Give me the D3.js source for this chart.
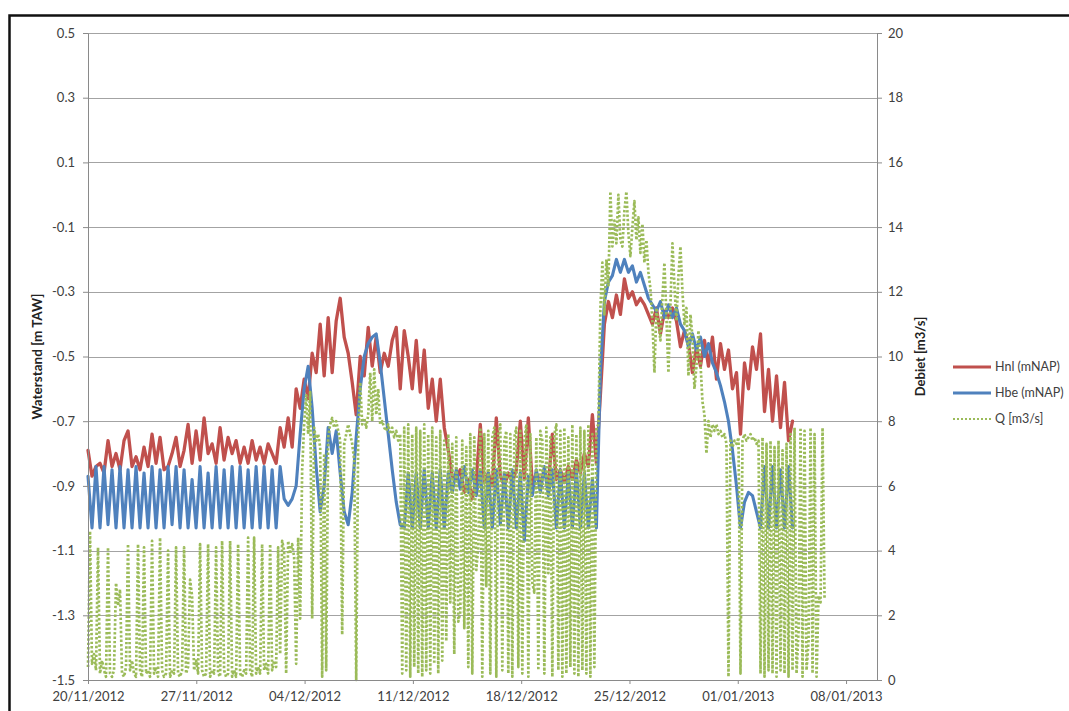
<!DOCTYPE html>
<html>
<head>
<meta charset="utf-8">
<script src="https://cdn.jsdelivr.net/npm/d3@7"></script>
<style>
  body { margin: 0; background: #fff; }
  svg { display: block; }
  text { font-family: Lato, "Liberation Sans", Arial, sans-serif; }
</style>
</head>
<body>
<svg id="chart" width="1069" height="711"></svg>
<script>
// ---- Data -------------------------------------------------------------
// Series start at 20/11/2012 00:00 (UTC) and are regularly sampled.
const seriesStart = "2012-11-20";
const levelStepHours = 6.21;   // water levels: every half tide
const flowStepHours = 3.105;   // discharge: every quarter tide

// Hnl (mNAP) – water level, Dutch side [m]
const hnl = [
  -0.79,-0.87,-0.84,-0.83,-0.86,-0.76,-0.84,-0.80,-0.85,-0.76,
  -0.73,-0.84,-0.81,-0.85,-0.78,-0.84,-0.74,-0.83,-0.75,-0.85,
  -0.84,-0.80,-0.75,-0.84,-0.79,-0.71,-0.83,-0.73,-0.82,-0.69,
  -0.80,-0.77,-0.83,-0.72,-0.82,-0.75,-0.80,-0.76,-0.83,-0.78,
  -0.83,-0.76,-0.82,-0.78,-0.83,-0.77,-0.80,-0.83,-0.72,
  -0.78,-0.69,-0.78,-0.60,-0.66,-0.57,-0.63,-0.49,-0.55,-0.40,
  -0.56,-0.38,-0.55,-0.39,-0.32,-0.44,-0.49,-0.58,-0.68,-0.50,
  -0.56,-0.41,-0.53,-0.44,-0.55,-0.49,-0.53,-0.45,-0.41,-0.60,
  -0.42,-0.50,-0.60,-0.45,-0.61,-0.48,-0.66,-0.57,-0.70,-0.57,
  -0.72,-0.79,-0.87,
  -0.88,-0.85,-0.92,-0.88,-0.94,-0.88,-0.71,-0.89,-0.86,-0.90,
  -0.69,-0.87,-0.90,-0.86,-0.89,-0.85,-0.70,-0.88,-0.69,-0.90,
  -0.86,-0.89,-0.85,-0.90,-0.74,-0.88,-0.85,-0.89,-0.84,-0.88,
  -0.82,-0.86,-0.80,-0.84,-0.68,-0.83,
  -0.62,-0.40,-0.33,-0.38,-0.31,-0.37,-0.26,-0.32,-0.30,-0.34,
  -0.32,-0.34,-0.37,-0.40,-0.35,-0.43,-0.36,-0.38,-0.35,-0.39,
  -0.47,-0.42,-0.46,-0.55,-0.47,-0.53,-0.45,-0.53,-0.44,-0.57,
  -0.46,-0.54,-0.48,-0.60,-0.55,-0.74,-0.52,-0.60,-0.47,-0.54,
  -0.43,-0.67,-0.54,-0.70,-0.56,-0.72,-0.58,-0.76,-0.70
];

// Hbe (mNAP) – water level, Belgian side [m]
const hbe = [
  -0.87,-1.03,-0.84,-1.03,-0.84,-1.02,-0.85,-1.03,-0.84,-1.03,
  -0.85,-1.03,-0.84,-1.03,-0.86,-1.03,-0.84,-1.03,-0.85,-1.03,
  -0.84,-1.02,-0.84,-1.03,-0.85,-1.03,-0.88,-1.03,-0.84,-1.03,
  -0.86,-1.03,-0.84,-1.03,-0.85,-1.03,-0.84,-1.03,-0.84,-1.03,
  -0.85,-1.03,-0.84,-1.03,-0.84,-1.03,-0.85,-1.03,-0.84,
  -0.94,-0.96,-0.94,-0.90,-0.74,-0.60,-0.53,-0.66,-0.84,-0.98,
  -0.90,-0.72,-0.80,-0.73,-0.86,-0.98,-1.02,-0.92,-0.75,-0.60,
  -0.50,-0.46,-0.44,-0.43,-0.52,-0.63,-0.74,-0.85,-0.95,-1.02,
  -1.03,
  -0.86,-1.03,-0.86,-1.03,-0.85,-1.03,-0.86,-1.03,-0.85,-1.03,
  -0.86,-0.92,-0.85,-0.91,-0.84,-0.92,-0.85,-0.93,-0.85,-1.03,
  -0.86,-1.03,-0.85,-1.02,-0.86,-1.03,-0.85,-1.03,-0.86,-1.07,
  -0.87,-0.93,-0.85,-0.92,-0.84,-0.93,-0.85,-1.03,-0.85,-1.03,
  -0.86,-1.03,-0.85,-1.03,-0.86,-1.03,-0.88,-1.03,
  -0.55,-0.33,-0.27,-0.25,-0.20,-0.24,-0.20,-0.24,-0.22,-0.27,
  -0.24,-0.28,-0.32,-0.34,-0.36,-0.33,-0.38,-0.34,-0.38,-0.35,
  -0.40,-0.42,-0.47,-0.43,-0.48,-0.44,-0.50,-0.46,-0.52,-0.55,
  -0.59,-0.64,-0.70,-0.79,-0.90,-1.03,-0.95,-0.92,-0.93,-0.98,
  -1.03,-0.84,-1.03,-0.84,-1.03,-0.85,-1.03,-0.84,-1.03
];

// Q [m3/s] – discharge
const q = [
  0.4,4.6,0.5,0.8,0.3,4.1,0.2,0.6,0.3,0.1,
  4.1,0.2,0.1,0.3,3.0,2.3,2.8,0.2,0.1,0.4,
  4.2,0.3,0.6,0.2,0.1,4.2,0.3,0.1,4.1,0.2,
  0.3,0.1,4.3,0.2,0.4,0.1,4.4,0.3,0.1,0.2,
  4.0,0.1,0.3,0.2,4.1,0.2,0.1,0.3,4.1,0.2,
  0.4,3.1,2.6,0.3,0.6,0.2,4.2,0.3,0.1,0.2,
  4.2,0.1,0.3,0.2,4.1,0.2,0.1,4.3,0.3,0.1,
  0.2,4.3,0.1,0.3,0.1,4.2,0.2,0.1,0.3,0.2,
  4.4,0.3,0.1,4.4,0.2,0.4,0.2,4.2,0.3,0.5,
  0.2,4.2,0.3,0.6,0.4,4.1,0.8,4.3,
  4.0,0.2,4.3,3.9,4.2,3.8,0.5,4.4,1.9,6.5,
  7.9,8.8,7.6,8.9,1.9,7.8,7.4,7.6,7.2,0.1,
  7.0,0.3,7.5,7.9,8.1,7.8,8.0,7.7,7.4,1.4,
  7.3,7.6,7.9,7.6,7.3,6.8,0.0,7.5,9.2,7.9,
  8.1,7.8,8.2,9.5,8.0,9.6,8.2,9.0,7.9,8.0,
  7.8,7.7,7.9,7.6,7.8,7.5,7.7,7.4,7.6,0.2,
  7.8,0.3,7.9,0.1,7.6,0.4,7.8,0.2,7.7,0.1,
  7.9,0.3,7.6,0.2,7.8,0.5,7.5,0.2,7.7,0.6,
  7.4,1.2,7.6,2.4,7.3,0.8,7.5,1.8,2.1,7.4,
  1.6,7.2,0.4,7.6,0.2,7.5,3.4,4.1,7.8,0.1,
  7.6,2.9,7.7,0.2,7.5,7.8,0.1,7.6,7.9,0.3,
  7.4,7.7,0.2,7.6,0.1,7.5,7.8,0.4,7.7,0.2,
  7.4,7.9,0.1,7.6,3.0,2.7,7.5,0.3,7.7,7.4,
  0.2,7.8,3.3,7.5,0.1,7.6,7.9,0.3,7.7,0.1,
  7.8,0.2,7.5,0.4,7.9,0.2,7.6,0.1,7.8,0.3,
  7.7,0.2,7.9,0.1,7.6,0.4,7.8,
  7.9,11.5,12.9,11.3,13.0,12.2,15.1,13.4,14.2,13.5,
  15.0,13.6,13.4,14.5,15.1,13.8,13.1,14.0,14.8,13.6,
  14.3,13.2,14.1,12.9,13.6,12.6,12.1,11.1,9.5,11.5,
  11.0,10.5,11.8,12.9,11.2,9.5,11.6,13.5,12.2,11.1,
  12.5,13.4,12.0,11.0,11.5,9.4,11.3,10.6,9.0,9.7,
  10.8,9.8,8.6,8.2,7.0,8.0,7.5,7.9,7.7,7.9,
  7.6,7.7,7.5,7.6,7.3,0.1,7.4,7.2,7.4,7.3,
  7.5,0.2,7.4,7.6,7.4,7.5,7.6,7.4,7.5,7.3,
  7.4,0.2,7.5,0.1,7.3,0.3,7.4,0.2,7.2,0.1,
  7.4,0.3,7.1,0.2,7.3,0.1,7.6,0.3,7.8,0.2,
  1.5,7.8,0.1,7.7,0.3,1.2,7.8,0.2,7.6,0.1,
  2.6,2.4,7.8,2.5
];

// Axes
const dateDomain = ["2012-11-20", "2013-01-10"];
const dateTicks = ["2012-11-20","2012-11-27","2012-12-04","2012-12-11",
                   "2012-12-18","2012-12-25","2013-01-01","2013-01-08"];
const levelTicks = [-1.5,-1.3,-1.1,-0.9,-0.7,-0.5,-0.3,-0.1,0.1,0.3,0.5];
const levelTickLabels = ["-1.5","-1.3","-1.1","-0.9","-0.7","-0.5","-0.3","-0.1","0.1","0.3","0.5"];
const flowTicks = [0,2,4,6,8,10,12,14,16,18,20];
const seriesNames = ["Hnl (mNAP)", "Hbe (mNAP)", "Q [m3/s]"];
const levelTitle = "Waterstand [m TAW]";
const flowTitle = "Debiet [m3/s]";

// ---- Drawing ----------------------------------------------------------
const W = 1069, H = 711;
const plot = { left: 88, right: 877, top: 33, bottom: 680 };
const colors = { hnl: "#C0504D", hbe: "#4F81BD", q: "#9BBB59" };
const textColor = "#404040";
const gridColor = "#a3a3a3";
const axisColor = "#8a8a8a";

const parseDay = d3.utcParse("%Y-%m-%d");
const fmtDay = d3.utcFormat("%d/%m/%Y");
const t0 = parseDay(seriesStart).getTime();
const HOUR = 3600 * 1000;

const x = d3.scaleUtc().domain(dateDomain.map(parseDay)).range([plot.left, plot.right]);
const yLevel = d3.scaleLinear().domain([-1.5, 0.5]).range([plot.bottom, plot.top]);
const yFlow = d3.scaleLinear().domain([0, 20]).range([plot.bottom, plot.top]);

const svg = d3.select("#chart");
svg.append("rect").attr("width", W).attr("height", H).attr("fill", "#fff");

// chart frame
svg.append("rect")
  .attr("x", 9.5).attr("y", 15.5).attr("width", 1200).attr("height", 900)
  .attr("fill", "none").attr("stroke", "#111").attr("stroke-width", 2.5);

// horizontal gridlines
svg.append("g").selectAll("line").data(levelTicks).join("line")
  .attr("x1", plot.left).attr("x2", plot.right)
  .attr("y1", d => Math.round(yLevel(d)) + 0.5)
  .attr("y2", d => Math.round(yLevel(d)) + 0.5)
  .attr("stroke", gridColor).attr("stroke-width", 1);

// series lines
const levelLine = d3.line()
  .x((d, i) => x(new Date(t0 + i * levelStepHours * HOUR)))
  .y(d => yLevel(d));
const flowLine = d3.line()
  .x((d, i) => x(new Date(t0 + i * flowStepHours * HOUR)))
  .y(d => yFlow(d));

svg.append("path").datum(hnl).attr("d", levelLine)
  .attr("fill", "none").attr("stroke", colors.hnl).attr("stroke-width", 3.3)
  .attr("stroke-linejoin", "round").attr("stroke-linecap", "round");
svg.append("path").datum(hbe).attr("d", levelLine)
  .attr("fill", "none").attr("stroke", colors.hbe).attr("stroke-width", 3.1)
  .attr("stroke-linejoin", "round").attr("stroke-linecap", "round");
svg.append("path").datum(q).attr("d", flowLine)
  .attr("fill", "none").attr("stroke", colors.q).attr("stroke-width", 2.7)
  .attr("stroke-dasharray", "2.4,2").attr("stroke-linejoin", "round");

// axes
function styleAxis(g) {
  g.select(".domain").attr("stroke", axisColor);
  g.selectAll(".tick line").attr("stroke", axisColor);
  g.selectAll(".tick text").attr("fill", textColor).attr("font-size", 13);
}

svg.append("g")
  .attr("transform", `translate(${plot.left},0)`)
  .call(d3.axisLeft(yLevel).tickValues(levelTicks)
    .tickFormat((d, i) => levelTickLabels[i]).tickSize(5).tickPadding(8).tickSizeOuter(0))
  .call(styleAxis);

svg.append("g")
  .attr("transform", `translate(${plot.right},0)`)
  .call(d3.axisRight(yFlow).tickValues(flowTicks).tickSize(5).tickPadding(6).tickSizeOuter(0))
  .call(styleAxis);

svg.append("g")
  .attr("transform", `translate(0,${plot.bottom})`)
  .call(d3.axisBottom(x).tickValues(dateTicks.map(parseDay))
    .tickFormat(fmtDay).tickSize(4).tickPadding(8).tickSizeOuter(0))
  .call(styleAxis);

// axis titles
const midY = (plot.top + plot.bottom) / 2;
svg.append("text")
  .attr("transform", `translate(42,${midY}) rotate(-90)`)
  .attr("text-anchor", "middle").attr("font-size", 13.5).attr("font-weight", "bold")
  .attr("fill", "#222").text(levelTitle);
svg.append("text")
  .attr("transform", `translate(925,${midY}) rotate(-90)`)
  .attr("text-anchor", "middle").attr("font-size", 13).attr("font-weight", "bold")
  .attr("fill", "#222").text(flowTitle);

// legend
const legendKeys = ["hnl", "hbe", "q"];
const legend = svg.append("g").attr("transform", "translate(953,367)");
legendKeys.forEach((k, i) => {
  const row = legend.append("g").attr("transform", `translate(0,${i * 26})`);
  const ln = row.append("line").attr("x1", 0).attr("x2", 38).attr("y1", 0).attr("y2", 0)
    .attr("stroke", colors[k]);
  if (k === "q") ln.attr("stroke-width", 2).attr("stroke-dasharray", "2,2");
  else ln.attr("stroke-width", 3);
  row.append("text").attr("x", 42).attr("y", 0).attr("dy", "0.35em")
    .attr("font-size", 12.5).attr("fill", textColor).text(seriesNames[i]);
});
</script>
</body>
</html>
